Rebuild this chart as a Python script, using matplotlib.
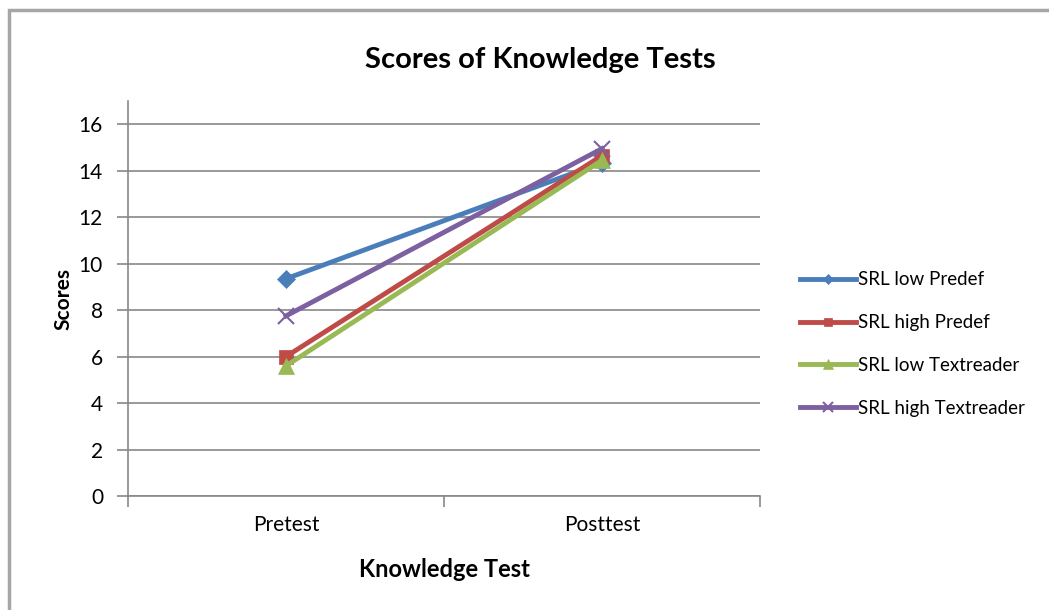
import matplotlib.pyplot as plt
from matplotlib.patches import Rectangle

plt.rcParams['font.family'] = ['Lato', 'DejaVu Sans']

categories = ['Pretest', 'Posttest']
series_names = ['SRL low Predef', 'SRL high Predef', 'SRL low Textreader', 'SRL high Textreader']
low_predef = [9.35, 14.35]
high_predef = [6.0, 14.65]
low_textreader = [5.6, 14.45]
high_textreader = [7.75, 14.95]
series = [low_predef, high_predef, low_textreader, high_textreader]

colors = ['#4A7EBB', '#BE4B48', '#98B954', '#7D60A0']
markers = ['D', 's', '^', 'x']
msizes = [9, 10, 11, 12]

fig = plt.figure(figsize=(10.49, 6.10), dpi=100)
fig.patches.append(Rectangle((9 / 1049, -0.1), 1.2, 1 - 10 / 610 + 0.1, transform=fig.transFigure,
                             fill=False, edgecolor='#A6A6A6', linewidth=2.5))
ax = fig.add_axes([128 / 1049, 1 - 496 / 610, (760 - 128) / 1049, (496 - 101) / 610])

x = range(len(categories))
for vals, name, c, m, ms in zip(series, series_names, colors, markers, msizes):
    ax.plot(x, vals, color=c, linewidth=3.5, marker=m, markersize=ms, label=name,
            markeredgewidth=1.5 if m == 'x' else 0.5, markeredgecolor=c)

ax.set_xlim(-0.5, 1.5)
ax.set_ylim(0, 17)
ax.set_yticks(range(0, 17, 2))
ax.set_xticks([-0.5, 0.5, 1.5], minor=False)
ax.set_xticklabels([])
ax.set_xticks([0, 1], minor=True)
ax.set_xticklabels(categories, minor=True)
ax.tick_params(axis='x', which='minor', length=0, pad=14, labelsize=15)
ax.tick_params(axis='x', which='major', length=8, color='#888888', width=1.2)
ax.tick_params(axis='y', length=8, color='#888888', width=1.2, labelsize=15, pad=10)
ax.grid(axis='y', color='#888888', linewidth=1.2)
ax.set_axisbelow(True)
for s in ['top', 'right']:
    ax.spines[s].set_visible(False)
for s in ['left', 'bottom']:
    ax.spines[s].set_color('#888888')
    ax.spines[s].set_linewidth(1.2)

ax.set_xlabel('Knowledge Test', fontsize=17, fontweight='bold', labelpad=16)
ax.set_ylabel('Scores', fontsize=15, fontweight='bold', labelpad=4)
fig.text(540 / 1049, 1 - 60 / 610, 'Scores of Knowledge Tests', fontsize=21, fontweight='bold',
         ha='center', va='center')

ax.legend(loc='center left', bbox_to_anchor=(783 / 1049, 1 - 344 / 610), bbox_transform=fig.transFigure,
          frameon=False, fontsize=13.5, handlelength=3.0, handletextpad=0.1, labelspacing=1.38,
          markerscale=0.6)

fig.savefig('out.png', dpi=100)
